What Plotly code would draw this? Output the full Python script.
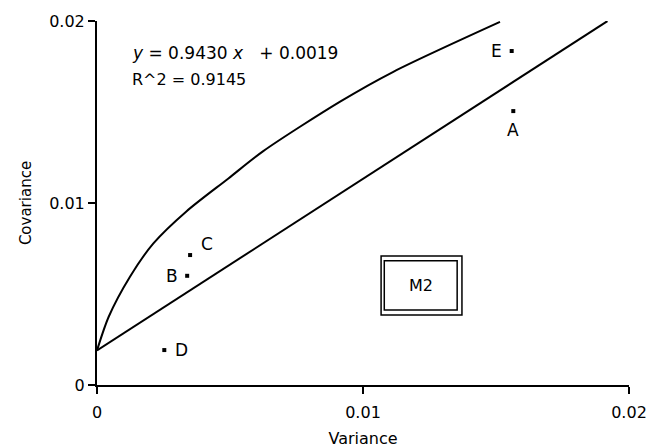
import plotly.graph_objects as go

# Data
frontier_var = [0.0, 0.00044, 0.00124, 0.00212, 0.00337, 0.00494, 0.00625, 0.00914, 0.01114, 0.01515]
frontier_cov = [0.0019, 0.00375, 0.00595, 0.00778, 0.00955, 0.01135, 0.01285, 0.01557, 0.01721, 0.01995]

slope = 0.9430
intercept = 0.0019
line_var = [0.0, 0.01919]
line_cov = [intercept + slope * v for v in line_var]

point_names = ["A", "B", "C", "D", "E"]
point_var = [0.01565, 0.00339, 0.0035, 0.00253, 0.01559]
point_cov = [0.01505, 0.0060, 0.00714, 0.00192, 0.01835]

x_ticks = [0, 0.01, 0.02]
x_ticktext = ["0", "0.01", "0.02"]
y_ticks = [0, 0.01, 0.02]
y_ticktext = ["0", "0.01", "0.02"]

FONT = "DejaVu Sans"
# label offsets in pixels (styling)
label_shift = {"A": (0, -19), "B": (-15, 0), "C": (17, 11), "D": (17, 0), "E": (-15, 0)}

fig = go.Figure()
fig.add_trace(go.Scatter(x=frontier_var, y=frontier_cov, mode="lines",
                         line=dict(color="black", width=2, shape="spline", smoothing=0.8),
                         hoverinfo="skip"))
fig.add_trace(go.Scatter(x=line_var, y=line_cov, mode="lines",
                         line=dict(color="black", width=2), hoverinfo="skip"))
fig.add_trace(go.Scatter(x=point_var, y=point_cov, mode="markers",
                         marker=dict(symbol="square", size=4, color="black")))

for name, vx, vy in zip(point_names, point_var, point_cov):
    dx, dy = label_shift[name]
    fig.add_annotation(x=vx, y=vy, text=name, showarrow=False, xshift=dx, yshift=dy,
                       font=dict(family=FONT, size=17, color="black"))

# M2 box (double frame)
fig.add_shape(type="rect", x0=0.01068, x1=0.01372, y0=0.00385, y1=0.00709,
              line=dict(color="black", width=1.5))
fig.add_shape(type="rect", x0=0.0108, x1=0.01354, y0=0.00412, y1=0.00683,
              line=dict(color="black", width=1.5))
fig.add_annotation(x=0.01218, y=0.00544, text="M2", showarrow=False,
                   font=dict(family=FONT, size=16, color="black"))

fig.add_annotation(x=0.00124, y=0.01825, xanchor="left", yanchor="middle",
                   text="<i>y</i>&nbsp;=&nbsp;0.9430&nbsp;<i>x</i>&nbsp;&nbsp;&nbsp;+&nbsp;0.0019", showarrow=False,
                   font=dict(family=FONT, size=17, color="black"))
fig.add_annotation(x=0.00124, y=0.01676, xanchor="left", yanchor="middle",
                   text="R^2 = 0.9145", showarrow=False,
                   font=dict(family=FONT, size=16, color="black"))

fig.update_layout(
    width=665, height=448,
    margin=dict(l=97, r=36, t=21, b=63, autoexpand=False),
    paper_bgcolor="white", plot_bgcolor="white",
    showlegend=False,
    font=dict(family=FONT, size=16, color="black"),
)
fig.update_xaxes(range=[0, 0.02], tickvals=x_ticks, ticktext=x_ticktext, automargin=False,
                 showgrid=False, zeroline=False, showline=True, linecolor="black", linewidth=2,
                 ticks="outside", ticklen=7, tickwidth=1.5, tickcolor="black",
                 tickfont=dict(family=FONT, size=16), ticklabelstandoff=5,
                 title=dict(text="Variance", font=dict(family=FONT, size=16), standoff=16))
fig.update_yaxes(range=[0, 0.02], tickvals=y_ticks, ticktext=y_ticktext, automargin=False,
                 showgrid=False, zeroline=False, showline=True, linecolor="black", linewidth=2,
                 ticks="outside", ticklen=7, tickwidth=1.5, tickcolor="black",
                 tickfont=dict(family=FONT, size=16),
                 title=dict(text="Covariance", font=dict(family=FONT, size=15), standoff=14))

fig.write_html("out.html")
